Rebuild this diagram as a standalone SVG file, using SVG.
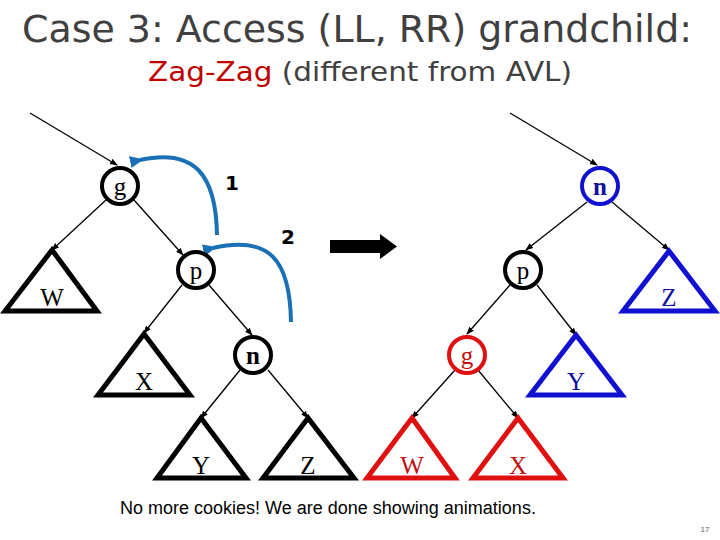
<svg xmlns="http://www.w3.org/2000/svg" width="720" height="540" viewBox="0 0 720 540">
<defs>
<marker id="ah" markerWidth="8" markerHeight="8" refX="7" refY="4" orient="auto" markerUnits="userSpaceOnUse"><path d="M0,1 L8,4 L0,7 z" fill="#000"/></marker>
<marker id="bh" markerWidth="14" markerHeight="14" refX="4" refY="7" orient="auto" markerUnits="userSpaceOnUse"><path d="M14,1 L0,7 L14,13 z" fill="#1a6fb5"/></marker>
</defs>
<style>
.c{fill:#fff;stroke-width:4}
.t{fill:#fff;stroke-width:5;stroke-linejoin:miter}
.l{font-family:"Liberation Serif",serif;font-size:25px;text-anchor:middle}
.e{stroke:#000;stroke-width:1.3;fill:none;marker-end:url(#ah)}
.k{stroke:#000}.b{stroke:#1010d0}.r{stroke:#e01010}
</style>
<rect width="720" height="540" fill="#fff"/>
<text x="357" y="42" font-family="DejaVu Sans,sans-serif" font-size="37" fill="#404040" text-anchor="middle" textLength="670" lengthAdjust="spacingAndGlyphs">Case 3: Access (LL, RR) grandchild:</text>
<text x="360" y="81" font-family="DejaVu Sans,sans-serif" font-size="27" text-anchor="middle" fill="#404040" textLength="424" lengthAdjust="spacingAndGlyphs"><tspan fill="#c00000">Zag-Zag</tspan> (different from AVL)</text>
<g id="connectors">
<line class="e" x1="30" y1="113" x2="117" y2="165"/>
<line class="e" x1="106" y1="200" x2="52" y2="250"/>
<line class="e" x1="134" y1="200" x2="183" y2="255"/>
<line class="e" x1="182" y1="285" x2="144" y2="333"/>
<line class="e" x1="209" y1="285" x2="252" y2="335"/>
<line class="e" x1="240" y1="370" x2="201" y2="418"/>
<line class="e" x1="268" y1="370" x2="308" y2="418"/>
<line class="e" x1="510" y1="113" x2="597" y2="165"/>
<line class="e" x1="587" y1="202" x2="526" y2="250"/>
<line class="e" x1="612" y1="202" x2="669" y2="250"/>
<line class="e" x1="510" y1="285" x2="467" y2="334"/>
<line class="e" x1="537" y1="285" x2="576" y2="335"/>
<line class="e" x1="455" y1="370" x2="412" y2="418"/>
<line class="e" x1="478" y1="370" x2="518" y2="418"/>
<path d="M217,235 C216,175 195,148 140,160" stroke="#1a6fb5" stroke-width="4" fill="none" marker-end="url(#bh)"/>
<path d="M291,322 C290,260 270,235 213,248" stroke="#1a6fb5" stroke-width="4" fill="none" marker-end="url(#bh)"/>
<path d="M330,240 H380 V234 L397,246.5 L380,259 V253 H330 z" fill="#000"/>
</g>
<text x="232" y="190" font-family="DejaVu Sans,sans-serif" font-weight="bold" font-size="20" text-anchor="middle">1</text>
<text x="288" y="244" font-family="DejaVu Sans,sans-serif" font-weight="bold" font-size="20" text-anchor="middle">2</text>
<g id="L_g"><circle class="c k" cx="120" cy="186" r="18"/><text class="l" x="120" y="195">g</text></g>
<g id="L_W"><polygon class="t k" points="52,250 5,311 97,311"/><text class="l" x="52" y="306">W</text></g>
<g id="L_p"><circle class="c k" cx="196" cy="270" r="18"/><text class="l" x="196" y="279">p</text></g>
<g id="L_X"><polygon class="t k" points="144,334 98,395 190,395"/><text class="l" x="144" y="390">X</text></g>
<g id="L_n"><circle class="c k" cx="253" cy="355" r="18"/><text class="l" x="253" y="364" font-weight="bold">n</text></g>
<g id="L_Y"><polygon class="t k" points="201,418 157,478 246,478"/><text class="l" x="201" y="474">Y</text></g>
<g id="L_Z"><polygon class="t k" points="308,418 263,478 354,478"/><text class="l" x="308" y="474">Z</text></g>
<g id="R_n"><circle class="c b" cx="600" cy="186" r="18"/><text class="l" x="600" y="195" font-weight="bold" fill="#1010a0">n</text></g>
<g id="R_p"><circle class="c k" cx="523" cy="270" r="18"/><text class="l" x="523" y="279">p</text></g>
<g id="R_Z"><polygon class="t b" points="669,251 623,311 715,311"/><text class="l" x="669" y="306" fill="#1010a0">Z</text></g>
<g id="R_g"><circle class="c r" cx="467" cy="355" r="18"/><text class="l" x="467" y="364" fill="#c01010">g</text></g>
<g id="R_Y"><polygon class="t b" points="576,335 530,395 622,395"/><text class="l" x="576" y="390" fill="#1010a0">Y</text></g>
<g id="R_W"><polygon class="t r" points="412,418 367,478 455,478"/><text class="l" x="412" y="474" fill="#c01010">W</text></g>
<g id="R_X"><polygon class="t r" points="518,418 473,478 563,478"/><text class="l" x="518" y="474" fill="#c01010">X</text></g>
<text x="120" y="514" font-family="Liberation Sans,sans-serif" font-size="18">No more cookies! We are done showing animations.</text>
<text x="705" y="532" font-family="Liberation Sans,sans-serif" font-size="8" fill="#606060" text-anchor="middle">17</text>
</svg>
